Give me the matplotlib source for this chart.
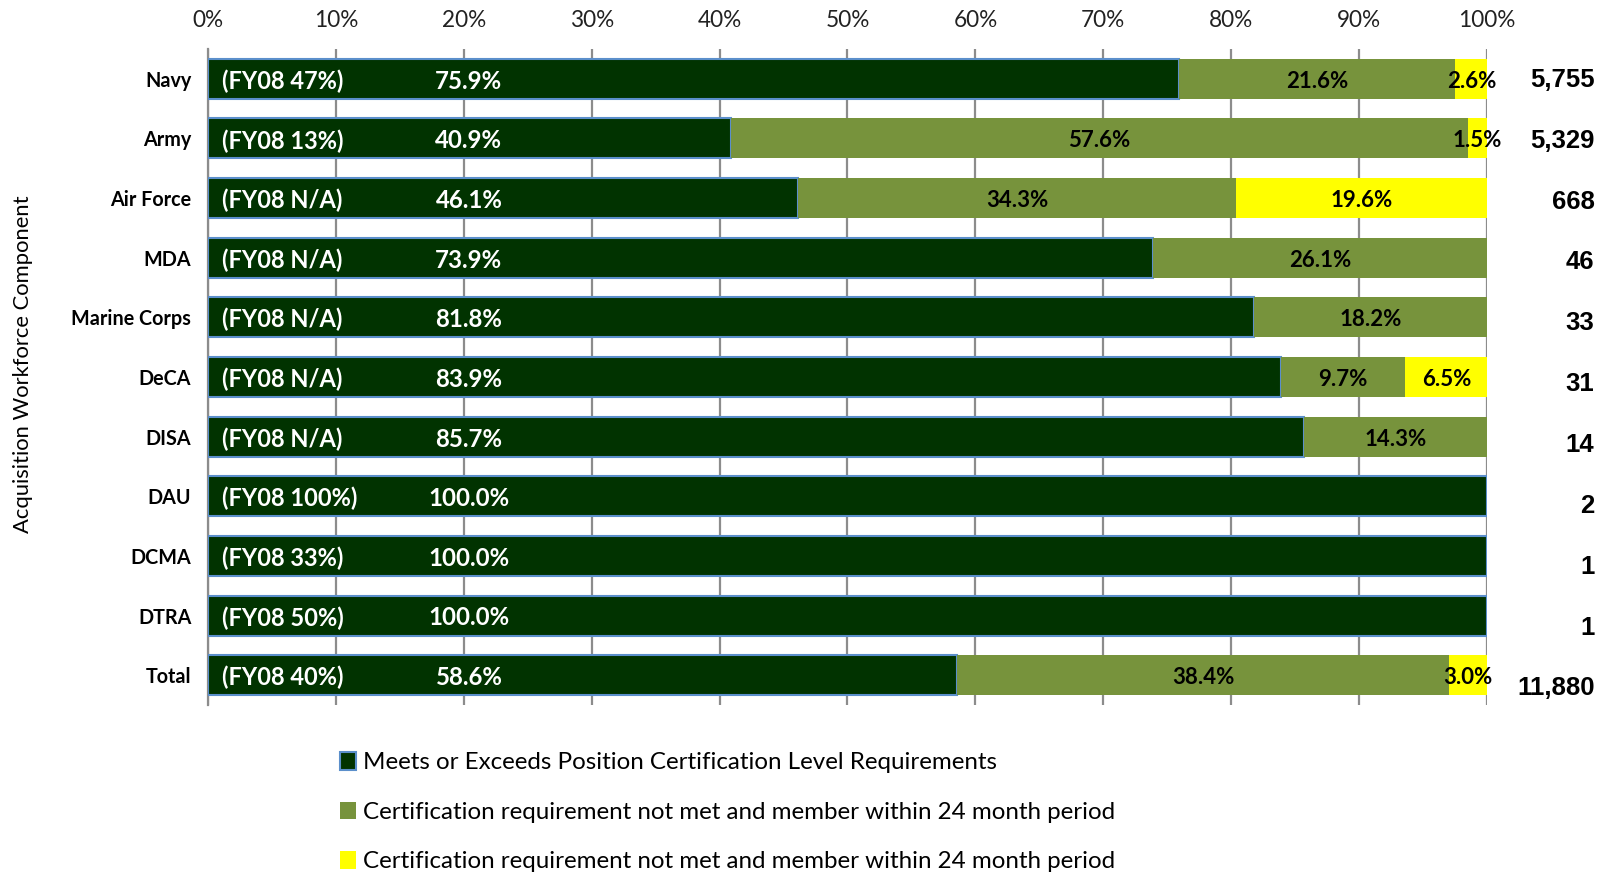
import matplotlib
matplotlib.use("Agg")
import matplotlib.pyplot as plt
from matplotlib.patches import Patch
import numpy as np

categories = ["Navy", "Army", "Air Force", "MDA", "Marine Corps", "DeCA", "DISA",
              "DAU", "DCMA", "DTRA", "Total"]
meets = [75.9, 40.9, 46.1, 73.9, 81.8, 83.9, 85.7, 100.0, 100.0, 100.0, 58.6]
within24 = [21.6, 57.6, 34.3, 26.1, 18.2, 9.7, 14.3, 0, 0, 0, 38.4]
notmet = [2.6, 1.5, 19.6, 0, 0, 6.5, 0, 0, 0, 0, 3.0]
fy08 = ["(FY08 47%)", "(FY08 13%)", "(FY08 N/A)", "(FY08 N/A)", "(FY08 N/A)",
        "(FY08 N/A)", "(FY08 N/A)", "(FY08 100%)", "(FY08 33%)", "(FY08 50%)", "(FY08 40%)"]
counts = ["5,755", "5,329", "668", "46", "33", "31", "14", "2", "1", "1", "11,880"]
legend_labels = ["Meets or Exceeds Position Certification Level Requirements",
                 "Certification requirement not met and member within 24 month period",
                 "Certification requirement not met and member within 24 month period"]
xticks = [0, 10, 20, 30, 40, 50, 60, 70, 80, 90, 100]

DARK = "#013300"
GREEN = "#77933C"
YELLOW = "#FFFF00"
EDGE = "#5B8FCB"

FONT = "Lato"

fig = plt.figure(figsize=(16.08, 8.72), dpi=100)
ax = fig.add_axes([208 / 1608, 1 - 705 / 872, 1279 / 1608, 656 / 872])

y = np.arange(len(categories))
meets_a = np.array(meets)
within_a = np.array(within24)
notmet_a = np.array(notmet)

h = 0.67
ax.barh(y, meets_a, height=h, color=DARK, edgecolor=EDGE, linewidth=1.5, zorder=3)
ax.barh(y, within_a, left=meets_a, height=h, color=GREEN, edgecolor="none", zorder=3)
ax.barh(y, notmet_a, left=meets_a + within_a, height=h, color=YELLOW, edgecolor="none", zorder=3)

ax.set_xlim(0, 100)
ax.set_ylim(len(categories) - 0.5, -0.5)

ax.xaxis.tick_top()
ax.set_xticks(xticks)
ax.set_xticklabels([f"{t}%" for t in xticks], fontsize=16.3, family=FONT, color="#222222")
ax.tick_params(axis="x", length=0, pad=13)
ax.set_yticks(y)
ax.set_yticklabels(categories, fontsize=14.2, family=FONT, fontweight="bold")
ax.tick_params(axis="y", length=0, pad=12)

ax.grid(axis="x", color="#8C8C8C", linewidth=1.6, zorder=0)
ax.set_axisbelow(True)
for s in ["top", "right", "bottom"]:
    ax.spines[s].set_visible(False)
ax.spines["left"].set_color("#8C8C8C")
ax.spines["left"].set_linewidth(1.6)

dy = 0.04
for i in range(len(categories)):
    ax.text(1.1, y[i] + dy, fy08[i], color="white", fontsize=17, fontweight="bold",
            family=FONT, va="center", ha="left", zorder=5)
    ax.text(20.4, y[i] + dy, f"{meets[i]:.1f}%", color="white", fontsize=17.3, fontweight="bold",
            family=FONT, va="center", ha="center", zorder=5)
    if within24[i] > 0:
        ax.text(meets[i] + within24[i] / 2, y[i] + dy, f"{within24[i]:.1f}%", color="black",
                fontsize=16, fontweight="bold", family=FONT, va="center", ha="center", zorder=5)
    if notmet[i] > 0:
        ax.text(meets[i] + within24[i] + notmet[i] / 2, y[i] + dy, f"{notmet[i]:.1f}%",
                color="black", fontsize=16, fontweight="bold", family=FONT,
                va="center", ha="center", zorder=5)
    ax.text(108.4, 0.016 + 1.0206 * i, counts[i], color="black", fontsize=18.5,
            fontweight="bold", family="Liberation Sans", va="center", ha="right",
            zorder=5, clip_on=False)

fig.text(23 / 1608, 1 - 364 / 872, "Acquisition Workforce Component", rotation=90,
         fontsize=15.8, family=FONT, va="center", ha="center")

handles = [Patch(facecolor=DARK, edgecolor=EDGE, linewidth=1.5),
           Patch(facecolor=GREEN, edgecolor="none"),
           Patch(facecolor=YELLOW, edgecolor="none")]
leg = fig.legend(handles, legend_labels, loc="upper left",
                 bbox_to_anchor=(340 / 1608, 1 - 752 / 872), frameon=False,
                 prop={"family": FONT, "size": 17.4}, handlelength=0.65, handleheight=0.75,
                 handletextpad=0.3, labelspacing=1.17, borderpad=0, borderaxespad=0)

fig.savefig("out.png", dpi=100)
